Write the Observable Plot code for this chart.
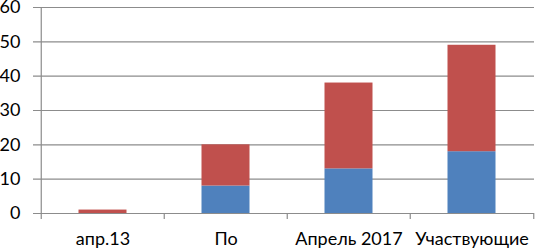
<!DOCTYPE html>
<html>
<head>
<meta charset="utf-8">
<script src="https://cdn.jsdelivr.net/npm/d3@7"></script>
<script src="https://cdn.jsdelivr.net/npm/@observablehq/plot@0.6"></script>
<style>
  html, body { margin: 0; padding: 0; background: #fff; }
  #chart svg { display: block; }
</style>
</head>
<body>
<div id="chart"></div>
<script>
const categories = ["апр.13", "По", "Апрель 2017", "Участвующие"];
const seriesNames = ["Ряд 1", "Ряд 2"];
const blueValues = [0, 8, 13, 18];
const redValues = [1, 12, 25, 31];
const yTicks = [0, 10, 20, 30, 40, 50, 60];
const colors = ["#4F81BD", "#C0504D"];

const rows = [];
categories.forEach((c, i) => {
  rows.push({category: c, series: seriesNames[0], value: blueValues[i]});
  rows.push({category: c, series: seriesNames[1], value: redValues[i]});
});

const W = 535, H = 251;
const mL = 40, mR = 1, mT = 7, mB = 38;
const bw = (W - mL - mR) / categories.length;
const gridColor = "#8c8c8c";

const chart = Plot.plot({
  width: W,
  height: H,
  marginLeft: mL,
  marginRight: mR,
  marginTop: mT,
  marginBottom: mB,
  style: {fontFamily: "Lato, sans-serif", fontSize: "18px", color: "#000", background: "#fff"},
  x: {domain: categories, padding: 0, label: null},
  y: {domain: [0, 60], label: null},
  color: {domain: seriesNames, range: colors},
  marks: [
    Plot.ruleY(yTicks, {stroke: gridColor, strokeWidth: 1.2, insetLeft: -7}),
    Plot.barY(rows, Plot.stackY({x: "category", y: "value", fill: "series", insetLeft: 37.5, insetRight: 37.5})),
    Plot.ruleX([categories[0]], {dx: -bw / 2, stroke: gridColor, strokeWidth: 1.2}),
    Plot.axisY({ticks: yTicks, tickSize: 0, tickPadding: 20, fontSize: 18, fill: "#000"}),
    Plot.axisX({tickSize: 6, stroke: gridColor, strokeWidth: 1.2, dx: -bw / 2, tickFormat: () => ""}),
    Plot.axisX([categories[categories.length - 1]], {tickSize: 6, stroke: gridColor, strokeWidth: 1.2, dx: bw / 2, tickFormat: () => ""}),
    Plot.axisX({tickSize: 0, tickPadding: 19, fontSize: 18, fill: "#000"})
  ]
});
document.getElementById("chart").appendChild(chart);
</script>
</body>
</html>
